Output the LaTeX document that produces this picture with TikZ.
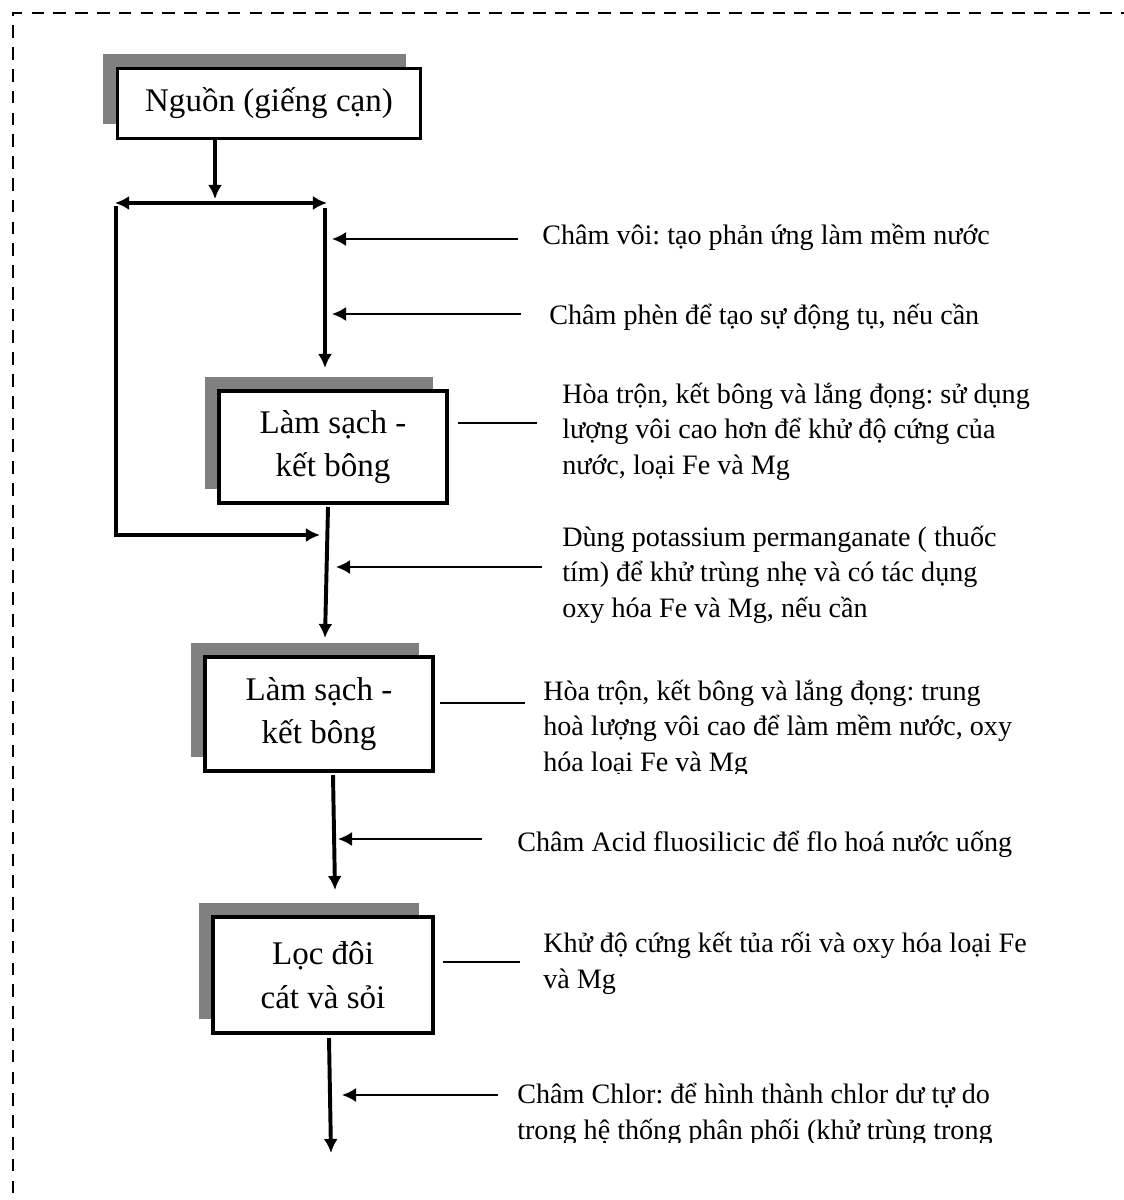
\documentclass[tikz,border=0pt]{standalone}
\usepackage{fontspec}
\setmainfont{Liberation Serif}
\usetikzlibrary{arrows.meta,shadows}
\frenchspacing
\tikzset{
  stage/.style={draw,line width=2.3pt,fill=white,align=center,inner sep=0pt,
    font=\fontsize{23.5}{31}\selectfont,
    drop shadow={shadow xshift=-0.36cm,shadow yshift=0.36cm,fill=black!50,opacity=1}},
  note/.style={anchor=base west,align=left,inner sep=0pt,font=\fontsize{20}{25}\selectfont},
  flow/.style={->,line width=2.8pt},
  feed/.style={->,line width=1.4pt},
  tie/.style={line width=1.4pt},
  frame/.style={line width=2.1pt,dash pattern=on 9pt off 6.5pt}
}
\begin{document}
\begin{tikzpicture}[x=0.025cm,y=-0.025cm,>={Latex[length=10pt,width=10pt]}]
    \useasboundingbox (0,0) rectangle (1123,1200);
    \draw[frame] (13,1215) -- (13,13) -- (1140,13);

    \node[stage,minimum width=7.575cm,minimum height=1.75cm] (src) at (269,103.5) {Nguồn (giếng cạn)};
    \node[stage,minimum width=5.7cm,minimum height=2.8cm] (clean1) at (333,447) {Làm sạch -\\kết bông};
    \node[stage,minimum width=5.7cm,minimum height=2.85cm] (clean2) at (319,714) {Làm sạch -\\kết bông};
    \node[stage,minimum width=5.5cm,minimum height=2.9cm] (filter) at (323,975) {Lọc đôi\\cát và sỏi};

    % multi-line notes sit on the baseline of their last line
    \node[note] (noteVoi) at (542,245) {Châm vôi: tạo phản ứng làm mềm nước};
    \node[note] (notePhen) at (549,325) {Châm phèn để tạo sự động tụ, nếu cần};
    \node[note] (noteMix1) at (562,474) {Hòa trộn,  kết bông và lắng đọng: sử dụng\\lượng vôi cao hơn để khử độ cứng của\\nước, loại Fe và Mg};
    \node[note] (notePerm) at (562,617) {Dùng potassium permanganate ( thuốc\\tím) để khử trùng nhẹ và  có tác dụng\\oxy hóa Fe và Mg, nếu cần};
    \begin{scope}
      \clip (0,0) rectangle (1123,773);
      \node[note] (noteMix2) at (543,771) {Hòa trộn,  kết bông và lắng đọng: trung\\hoà lượng vôi cao để làm mềm nước, oxy\\hóa loại Fe và Mg};
    \end{scope}
    \node[note] (noteFluo) at (517,851) {Châm Acid fluosilicic để  flo hoá nước uống};
    \node[note] (noteHard) at (543,988) {Khử độ cứng kết tủa rối và  oxy hóa loại Fe\\và Mg};
    \begin{scope}
      \clip (0,0) rectangle (1123,1142);
      \node[note] (noteChlor) at (517,1139) {Châm Chlor: để hình thành chlor dư tự do\\trong hệ thống phân phối (khử trùng trong};
    \end{scope}

    \coordinate (split) at (215,199);
    \coordinate (forkL) at (115,203);
    \coordinate (forkR) at (327,203);
    \coordinate (byTop) at (116,206);
    \coordinate (joinA) at (320,535);
    \coordinate (feedTop) at (325,208);
    \coordinate (feedEnd) at (325,368);
    \coordinate (c1Out) at (328,507);
    \coordinate (c2In) at (325,638);
    \coordinate (c2Out) at (333,775);
    \coordinate (fIn) at (335,890);
    \coordinate (fOut) at (329,1038);
    \coordinate (outEnd) at (331,1153);

    \draw[flow] (src.south -| split) -- (split);
    \draw[flow,<->] (forkL) -- (forkR);
    \draw[flow] (byTop) |- (joinA);
    \draw[flow] (feedTop) -- (feedEnd);
    \draw[flow] (c1Out) -- (c2In);
    \draw[flow] (c2Out) -- (fIn);
    \draw[flow] (fOut) -- (outEnd);

    \coordinate (voiIn) at (518,239);   \coordinate (voiTip) at (332,239);
    \coordinate (phenIn) at (521,314);  \coordinate (phenTip) at (332,314);
    \coordinate (permIn) at (542,567);  \coordinate (permTip) at (336,567);
    \coordinate (fluoIn) at (482,839);  \coordinate (fluoTip) at (338,839);
    \coordinate (chlorIn) at (498,1095); \coordinate (chlorTip) at (342,1095);
    \draw[feed] (voiIn) -- (voiTip);
    \draw[feed] (phenIn) -- (phenTip);
    \draw[feed] (permIn) -- (permTip);
    \draw[feed] (fluoIn) -- (fluoTip);
    \draw[feed] (chlorIn) -- (chlorTip);

    \coordinate (mixA) at (458,423);  \coordinate (mixAend) at (537,423);
    \coordinate (mixB) at (440,703);  \coordinate (mixBend) at (525,703);
    \coordinate (hardA) at (443,962); \coordinate (hardAend) at (520,962);
    \draw[tie] (mixA) -- (mixAend);
    \draw[tie] (mixB) -- (mixBend);
    \draw[tie] (hardA) -- (hardAend);
\end{tikzpicture}
\end{document}
